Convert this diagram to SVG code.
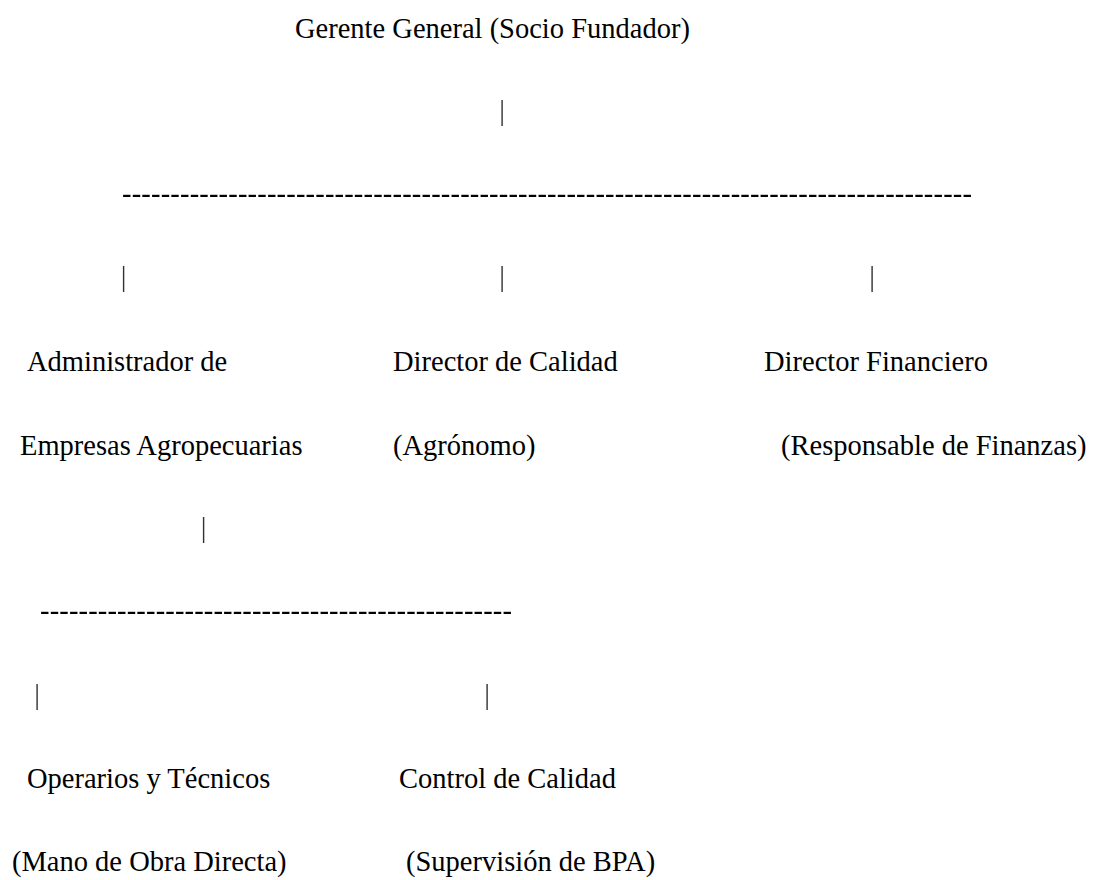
<svg xmlns="http://www.w3.org/2000/svg" width="1101" height="880" viewBox="0 0 1101 880">
<style>
text{font-family:"Liberation Serif","Times New Roman",serif;font-size:28.5px;fill:#000;}
.p{text-anchor:middle;fill:#333;}
</style>
<defs>
<filter id="gray" x="0" y="0" width="1101" height="880" filterUnits="userSpaceOnUse"><feOffset dx="0" dy="0"/></filter>
</defs>
<rect width="1101" height="880" fill="#fff"/>
<g id="connectors" filter="url(#gray)">
<text class="p" x="502" y="120">|</text>
<text x="122" y="203" textLength="850" lengthAdjust="spacing">----------------------------------------------------------------------------------------</text>
<text class="p" x="123.5" y="286">|</text>
<text class="p" x="502" y="286">|</text>
<text class="p" x="872" y="286">|</text>
<text class="p" x="203.5" y="537">|</text>
<text x="40" y="620" textLength="472" lengthAdjust="spacing">-------------------------------------------------</text>
<text class="p" x="37" y="704">|</text>
<text class="p" x="487" y="704">|</text>
</g>
<g id="gerente"><text x="295" y="38">Gerente General (Socio Fundador)</text></g>
<g id="administrador"><text x="27" y="371">Administrador de</text><text x="20" y="455">Empresas Agropecuarias</text></g>
<g id="director-calidad"><text x="393" y="371">Director de Calidad</text><text x="393" y="455">(Agrónomo)</text></g>
<g id="director-financiero"><text x="764" y="371">Director Financiero</text><text x="781" y="455">(Responsable de Finanzas)</text></g>
<g id="operarios"><text x="27" y="788">Operarios y Técnicos</text><text x="12" y="871">(Mano de Obra Directa)</text></g>
<g id="control-calidad"><text x="399" y="788">Control de Calidad</text><text x="406" y="871">(Supervisión de BPA)</text></g>
</svg>
